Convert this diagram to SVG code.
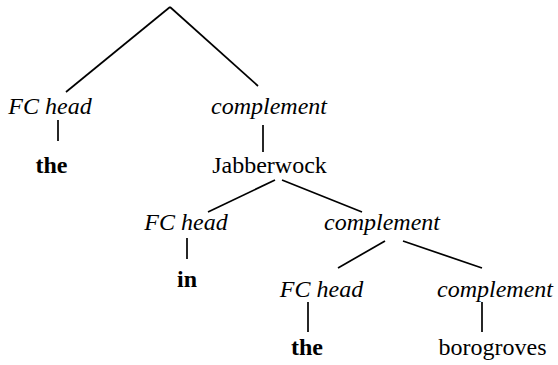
<svg xmlns="http://www.w3.org/2000/svg" width="558" height="365" viewBox="0 0 558 365">
<style>
.t{font-size:24px}
.cat{font-style:italic}
.b{font-weight:bold}
.e{stroke:#000;stroke-width:1.7}
</style>
<rect width="558" height="365" fill="#fff"/>
<g id="connectors" class="e">
<line x1="170" y1="7" x2="66" y2="92"/>
<line x1="170" y1="7" x2="258" y2="86"/>
<line x1="58" y1="120" x2="58" y2="141"/>
<line x1="263" y1="125" x2="263" y2="152"/>
<line x1="275" y1="180" x2="208" y2="212"/>
<line x1="282" y1="180" x2="362" y2="212"/>
<line x1="187" y1="238" x2="187" y2="259"/>
<line x1="385" y1="241" x2="338" y2="268"/>
<line x1="403" y1="241" x2="482" y2="268"/>
<line x1="308" y1="302" x2="308" y2="332"/>
<line x1="482" y1="302" x2="482" y2="332"/>
</g>
<g id="n-fchead1"><text class="t cat" font-family="Liberation Serif" text-anchor="middle" x="50" y="114">FC head</text></g>
<g id="n-complement1"><text class="t cat" font-family="Times New Roman" text-anchor="middle" x="269" y="114">complement</text></g>
<g id="n-the1"><text class="t b" font-family="serif" text-anchor="middle" x="51.5" y="173">the</text></g>
<g id="n-jabberwock"><text class="t" font-family="Liberation Serif" text-anchor="middle" x="269.5" y="173">Jabberwock</text></g>
<g id="n-fchead2"><text class="t cat" style="font-family:'Liberation Serif',serif" text-anchor="middle" x="186" y="230">FC head</text></g>
<g id="n-complement2"><text class="t cat" font-family="Liberation Serif" text-anchor="middle" x="382" y="230">complement</text></g>
<g id="n-in"><text class="t b" font-family="Liberation Serif" text-anchor="middle" x="187" y="287">in</text></g>
<g id="n-fchead3"><text class="t cat" font-family="Liberation Serif" text-anchor="middle" x="321.5" y="297">FC head</text></g>
<g id="n-complement3"><text class="t cat" font-family="Liberation Serif" text-anchor="middle" x="495" y="297">complement</text></g>
<g id="n-the2"><text class="t b" font-family="Liberation Serif" text-anchor="middle" x="307" y="355">the</text></g>
<g id="n-borogroves"><text class="t" font-family="Liberation Serif" text-anchor="middle" x="492.5" y="355">borogroves</text></g>
</svg>
